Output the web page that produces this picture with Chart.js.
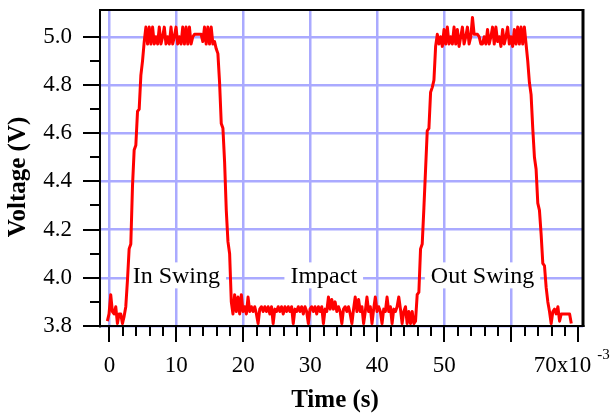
<!DOCTYPE html>
<html>
<head>
<meta charset="utf-8">
<script src="https://cdn.jsdelivr.net/npm/chart.js@4.4.1/dist/chart.umd.min.js"></script>
<style>
    html, body { margin: 0; padding: 0; background: #fff; }
    #wrap { width: 616px; height: 414px; }
</style>
</head>
<body>
<div id="wrap"><canvas id="graf"></canvas></div>
<script>
// sampled signal: first sample time and step, both in ms (axis is x10^-3 s)
const startTime = -0.3;
const sampleStep = 0.25;

const voltage = [
    3.82, 3.85, 3.93, 3.86, 3.85, 3.88, 3.81, 3.85, 3.85, 3.81,
    3.84, 3.88, 3.99, 4.12, 4.14, 4.38, 4.53, 4.55, 4.69, 4.70,
    4.84, 4.90, 4.98, 5.04, 4.97, 5.04, 4.97, 5.04, 4.97, 5.00,
    4.97, 5.04, 4.97, 5.00, 5.04, 4.97, 5.00, 4.97, 5.04, 4.97,
    5.00, 5.04, 4.97, 5.00, 4.97, 5.04, 4.97, 5.04, 4.97, 5.04,
    4.97, 5.00, 5.01, 5.01, 5.01, 5.01, 5.01, 4.98, 5.04, 4.97,
    5.04, 4.97, 5.04, 4.97, 4.98, 4.95, 4.93, 4.81, 4.64, 4.62,
    4.48, 4.28, 4.15, 4.10, 3.90, 3.85, 3.93, 3.86, 3.92, 3.85,
    3.93, 3.86, 3.88, 3.85, 3.92, 3.86, 3.88, 3.86, 3.88, 3.85,
    3.81, 3.87, 3.88, 3.86, 3.88, 3.86, 3.88, 3.85, 3.88, 3.81,
    3.87, 3.86, 3.88, 3.86, 3.88, 3.85, 3.88, 3.86, 3.88, 3.86,
    3.88, 3.81, 3.87, 3.86, 3.88, 3.86, 3.88, 3.85, 3.88, 3.86,
    3.81, 3.87, 3.88, 3.86, 3.88, 3.85, 3.88, 3.86, 3.88, 3.81,
    3.87, 3.86, 3.92, 3.87, 3.91, 3.87, 3.90, 3.86, 3.88, 3.86,
    3.81, 3.87, 3.88, 3.86, 3.88, 3.85, 3.81, 3.87, 3.92, 3.86,
    3.91, 3.86, 3.88, 3.81, 3.86, 3.92, 3.86, 3.88, 3.81, 3.87,
    3.92, 3.86, 3.88, 3.86, 3.81, 3.87, 3.86, 3.92, 3.86, 3.88,
    3.81, 3.87, 3.86, 3.88, 3.92, 3.87, 3.81, 3.86, 3.88, 3.81,
    3.86, 3.81, 3.86, 3.81, 3.82, 3.93, 3.94, 4.12, 4.14, 4.29,
    4.45, 4.61, 4.62, 4.77, 4.79, 4.82, 4.96, 5.01, 4.97, 5.00,
    4.96, 5.03, 4.97, 5.04, 4.97, 5.00, 4.97, 5.04, 4.97, 5.03,
    4.96, 5.00, 5.04, 4.97, 5.00, 5.04, 4.97, 5.00, 5.08, 5.01,
    5.01, 5.01, 5.00, 4.97, 4.97, 5.00, 4.97, 5.03, 4.97, 5.00,
    5.04, 4.97, 5.04, 4.98, 5.00, 4.96, 5.03, 4.97, 5.00, 5.04,
    4.97, 5.00, 4.96, 5.03, 4.97, 5.04, 4.97, 5.04, 4.97, 5.04,
    4.97, 4.90, 4.81, 4.76, 4.62, 4.50, 4.45, 4.31, 4.28, 4.18,
    4.06, 4.05, 3.96, 3.90, 3.86, 3.81, 3.86, 3.87, 3.85, 3.88,
    3.82, 3.85, 3.85, 3.85, 3.85, 3.85, 3.85, 3.81
];

const xTicks = [0, 10, 20, 30, 40, 50, 60, 70];
const xLabels = ['0', '10', '20', '30', '40', '50', '', ''];
const xMinorTicks = [2, 4, 6, 8, 12, 14, 16, 18, 22, 24, 26, 28, 32, 34, 36, 38, 42, 44, 46, 48, 52, 54, 56, 58, 62, 64, 66, 68];
const yTicks = [3.8, 4.0, 4.2, 4.4, 4.6, 4.8, 5.0];
const yMinorTicks = [3.9, 4.1, 4.3, 4.5, 4.7, 4.9];

const notes = ['In Swing', 'Impact', 'Out Swing'];
const notesX = [10, 32, 55.7];
const notesY = 4.01;

const serif = '"Liberation Serif", "Times New Roman", serif';
const gridColor = '#aaaaff';

const points = voltage.map((v, i) => ({ x: startTime + i * sampleStep, y: v }));

// white boxes with the phase names, drawn over the grid
const notesPlugin = {
    id: 'notes',
    beforeDatasetsDraw(chart) {
        const ctx = chart.ctx;
        const sx = chart.scales.x;
        const sy = chart.scales.y;
        ctx.save();
        ctx.font = `24px ${serif}`;
        ctx.textAlign = 'center';
        ctx.textBaseline = 'middle';
        notes.forEach((text, i) => {
            const px = sx.getPixelForValue(notesX[i]);
            const py = sy.getPixelForValue(notesY);
            const w = ctx.measureText(text).width + 12;
            ctx.fillStyle = '#fff';
            ctx.fillRect(px - w / 2, py - 13, w, 26);
            ctx.fillStyle = '#000';
            ctx.fillText(text, px, py + 1);
        });
        ctx.restore();
    }
};

// frame, tick marks, axis titles and the exponent label
const framePlugin = {
    id: 'frame',
    afterDraw(chart) {
        const ctx = chart.ctx;
        const area = chart.chartArea;
        const sx = chart.scales.x;
        const sy = chart.scales.y;
        ctx.save();
        ctx.strokeStyle = '#000';

        ctx.lineWidth = 2;
        ctx.beginPath();
        ctx.moveTo(area.left, area.top);
        ctx.lineTo(area.right, area.top);
        ctx.stroke();
        ctx.lineWidth = 3;
        ctx.beginPath();
        ctx.moveTo(area.right, area.top - 1);
        ctx.lineTo(area.right, area.bottom + 1);
        ctx.stroke();

        ctx.lineWidth = 2;
        ctx.beginPath();
        xTicks.forEach(v => {
            const px = Math.round(sx.getPixelForValue(v));
            ctx.moveTo(px, area.bottom);
            ctx.lineTo(px, area.bottom + 16);
        });
        xMinorTicks.forEach(v => {
            const px = Math.round(sx.getPixelForValue(v));
            ctx.moveTo(px, area.bottom);
            ctx.lineTo(px, area.bottom + 10);
        });
        yTicks.forEach(v => {
            const py = Math.round(sy.getPixelForValue(v));
            ctx.moveTo(area.left, py);
            ctx.lineTo(area.left - 17, py);
        });
        yMinorTicks.forEach(v => {
            const py = Math.round(sy.getPixelForValue(v));
            ctx.moveTo(area.left, py);
            ctx.lineTo(area.left - 10, py);
        });
        ctx.stroke();

        ctx.fillStyle = '#000';
        ctx.textBaseline = 'middle';
        ctx.font = `23px ${serif}`;
        ctx.textAlign = 'right';
        const p70 = sx.getPixelForValue(70);
        ctx.fillText('70x10', p70 + 13, 366);
        ctx.font = `15px ${serif}`;
        ctx.textAlign = 'left';
        ctx.fillText('-3', p70 + 19, 355);

        ctx.font = `bold 25px ${serif}`;
        ctx.textAlign = 'center';
        ctx.fillText('Time (s)', 335, 401);
        ctx.translate(19, 177);
        ctx.rotate(-Math.PI / 2);
        ctx.fillText('Voltage (V)', 0, 0);
        ctx.restore();
    }
};

new Chart(document.getElementById('graf'), {
    type: 'line',
    data: {
        datasets: [{
            data: points,
            borderColor: '#ff0000',
            borderWidth: 3,
            borderJoinStyle: 'round',
            pointRadius: 0,
            tension: 0,
            fill: false
        }]
    },
    options: {
        responsive: true,
        maintainAspectRatio: false,
        animation: false,
        layout: { padding: { top: 10, right: 33, left: 0, bottom: 0 } },
        plugins: {
            legend: { display: false },
            tooltip: { enabled: false }
        },
        scales: {
            x: {
                type: 'linear',
                min: -1.4,
                max: 70.7,
                afterBuildTicks: s => { s.ticks = xTicks.map(v => ({ value: v })); },
                afterFit: s => {
                    s.height = 88;
                    s.paddingLeft = 0;
                    s.paddingRight = 0;
                },
                grid: {
                    color: c => (c.tick && c.tick.value === 70) ? 'rgba(0,0,0,0)' : gridColor,
                    lineWidth: 2.5,
                    drawTicks: false
                },
                border: { color: '#000', width: 2 },
                ticks: {
                    padding: 26,
                    color: '#000',
                    maxRotation: 0,
                    autoSkip: false,
                    font: { family: serif, size: 23 },
                    callback: (v, i) => xLabels[i]
                }
            },
            y: {
                type: 'linear',
                min: 3.8,
                max: 5.111,
                afterBuildTicks: s => { s.ticks = yTicks.map(v => ({ value: v })); },
                afterFit: s => {
                    s.width = 100;
                    s.paddingTop = 0;
                    s.paddingBottom = 0;
                },
                grid: {
                    color: gridColor,
                    lineWidth: 2.5,
                    drawTicks: false
                },
                border: { color: '#000', width: 2 },
                ticks: {
                    padding: 28,
                    color: '#000',
                    autoSkip: false,
                    font: { family: serif, size: 23 },
                    callback: v => v.toFixed(1)
                }
            }
        }
    },
    plugins: [notesPlugin, framePlugin]
});
</script>
</body>
</html>
